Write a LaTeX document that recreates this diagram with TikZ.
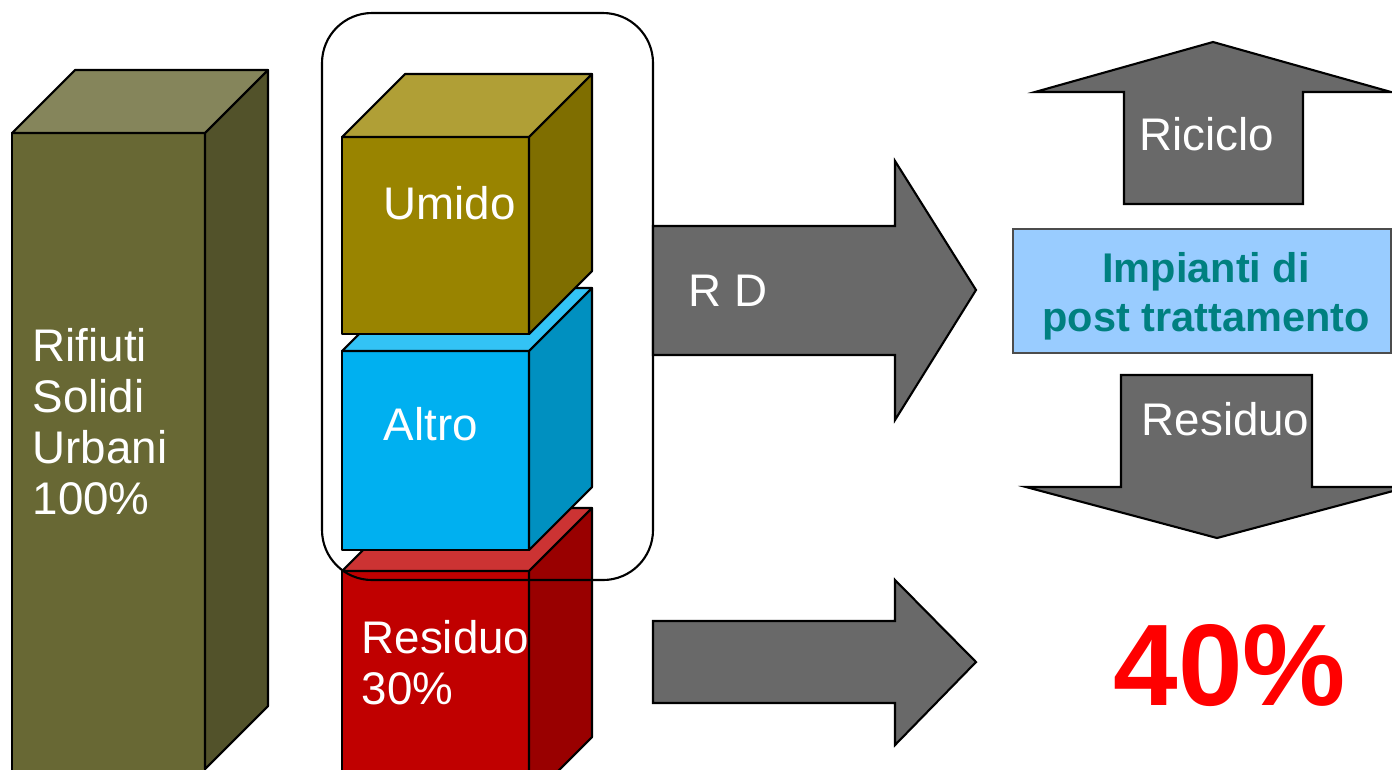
\documentclass[tikz,border=0pt]{standalone}
\usepackage{fontspec}
\setmainfont{Liberation Sans}
\usetikzlibrary{calc,positioning}

\definecolor{olfront}{HTML}{686834}
\definecolor{oltop}{HTML}{85855B}
\definecolor{olside}{HTML}{52522A}
\definecolor{umfront}{HTML}{998400}
\definecolor{umtop}{HTML}{B09F36}
\definecolor{umside}{HTML}{7F6E00}
\definecolor{alfront}{HTML}{00B0F0}
\definecolor{altop}{HTML}{33C3F5}
\definecolor{alside}{HTML}{0090C0}
\definecolor{refront}{HTML}{C00000}
\definecolor{retop}{HTML}{CC3333}
\definecolor{reside}{HTML}{990000}
\definecolor{arrgray}{HTML}{696969}
\definecolor{boxblue}{HTML}{99CCFF}
\definecolor{tealtxt}{HTML}{008080}

\begin{document}
\begin{tikzpicture} [x=0.01cm,y=-0.01cm,{face/.style={draw=black,line width=0.6pt,line join=round}},{blockarr/.style={draw=black,line width=0.6pt,fill=arrgray}},{lbl/.style={inner sep=0,text=white,font=\fontsize{13}{14.5}\selectfont,align=left}}]
	\useasboundingbox (0,0) rectangle (1392,769);
	\clip (0,0) rectangle (1392,769);

	%%coordinates
	\coordinate (RSU) at (12,133);
	\coordinate (UM) at (342,137);
	\coordinate (AL) at (342,351);
	\coordinate (RE) at (342,571);

	%% bar Rifiuti Solidi Urbani
	\draw [face,fill=olfront] (RSU) rectangle ++(193,680);
	\draw [face,fill=oltop] (RSU) -- ++(63,-63) -- ++(193,0) -- ++(-63,63) -- cycle;
	\draw [face,fill=olside] ($(RSU)+(193,0)$) -- ++(63,-63) -- ++(0,636) -- ++(-63,63) -- cycle;

	%% cube Residuo
	\draw [face,fill=refront] (RE) rectangle ++(187,240);
	\draw [face,fill=retop] (RE) -- ++(63,-63) -- ++(187,0) -- ++(-63,63) -- cycle;
	\draw [face,fill=reside] ($(RE)+(187,0)$) -- ++(63,-63) -- ++(0,229) -- ++(-63,63) -- cycle;

	%% cube Altro
	\draw [face,fill=alfront] (AL) rectangle ++(187,199);
	\draw [face,fill=altop] (AL) -- ++(63,-63) -- ++(187,0) -- ++(-63,63) -- cycle;
	\draw [face,fill=alside] ($(AL)+(187,0)$) -- ++(63,-63) -- ++(0,199) -- ++(-63,63) -- cycle;

	%% cube Umido
	\draw [face,fill=umfront] (UM) rectangle ++(187,197);
	\draw [face,fill=umtop] (UM) -- ++(63,-63) -- ++(187,0) -- ++(-63,63) -- cycle;
	\draw [face,fill=umside] ($(UM)+(187,0)$) -- ++(63,-63) -- ++(0,197) -- ++(-63,63) -- cycle;

	%% frame RD
	\draw [line width=0.6pt,rounded corners=0.5cm] (322,13) rectangle (653,580);

	%% block arrows
	\draw [blockarr] (653,226) -- (895,226) -- (895,161) -- (976,290) -- (895,420) -- (895,355) -- (653,355) -- cycle;
	\draw [blockarr] (653,621) -- (895,621) -- (895,580) -- (976,662) -- (895,745) -- (895,703) -- (653,703) -- cycle;
	\draw [blockarr] (1124,204) -- (1124,92) -- (1035,92) -- (1213,42) -- (1391,92) -- (1303,92) -- (1303,204) -- cycle;
	\draw [blockarr] (1121,375) -- (1312,375) -- (1312,487) -- (1408,487) -- (1217,538) -- (1026,487) -- (1121,487) -- cycle;

	%% plants
	\draw [line width=0.6pt,draw=black!70,fill=boxblue] (1013,229) rectangle (1391,353);

	%% labels (multi-line nodes: base = last line)
	\node [lbl,anchor=base west] (rsu) at (32,514) {Rifiuti\\Solidi\\Urbani\\100\%};
	\node [lbl,anchor=base west] (umido) at (383,219) {Umido};
	\node [lbl,anchor=base west] (altro) at (383,440) {Altro};
	\node [lbl,anchor=base west] (residuo) at (361,704) {Residuo\\30\%};
	\node [lbl,anchor=base west] (rd) at (688,306) {R D};
	\node [lbl,anchor=base] (riciclo) at (1207,150) {Riciclo};
	\node [lbl,anchor=base west] (resout) at (1141,435) {Residuo};
	\node [inner sep=0,anchor=base,align=center,text=tealtxt,font=\fontsize{11.8}{13.9}\selectfont\bfseries] (impianti) at (1206,331) {Impianti di\\post trattamento};
	\node [inner sep=0,anchor=base,text=red,font=\fontsize{33}{36}\selectfont\bfseries] (quota) at (1230,705) {40\%};
\end{tikzpicture}
\end{document}
